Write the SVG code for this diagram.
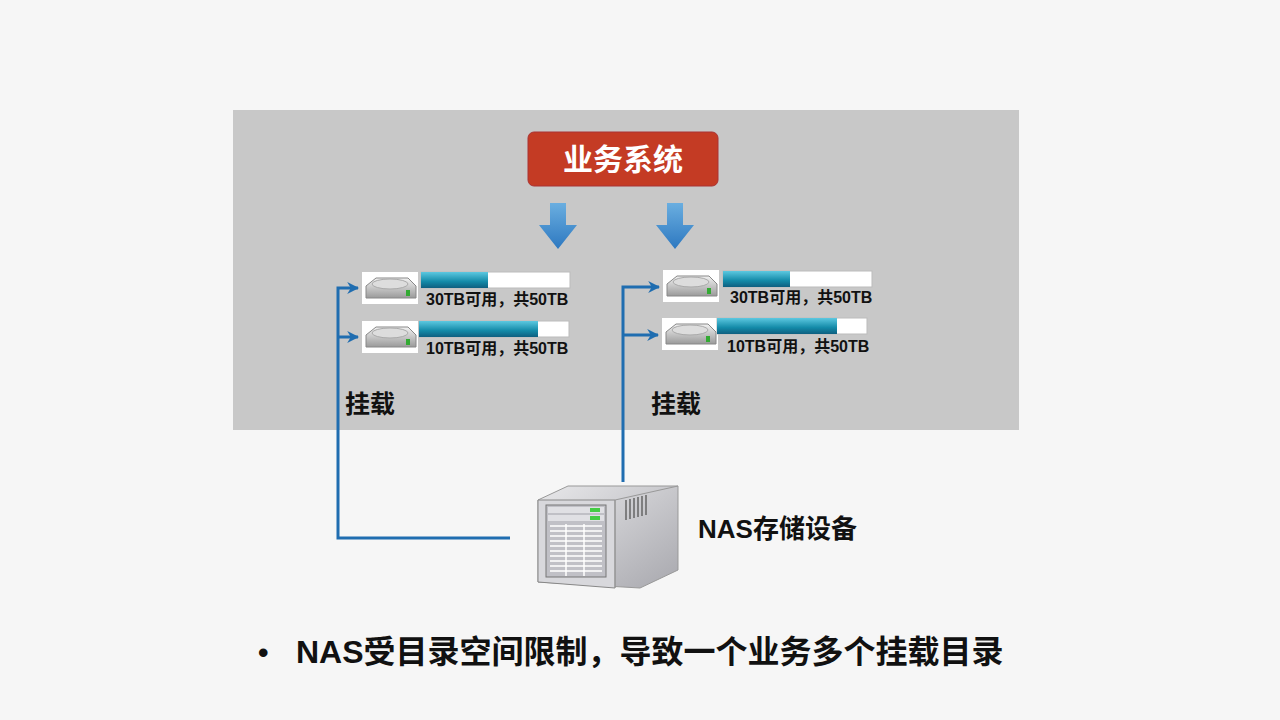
<svg xmlns="http://www.w3.org/2000/svg" width="1280" height="720" viewBox="0 0 1280 720">
<defs>
<style>
.t{font-family:"Liberation Sans","Noto Sans CJK SC",sans-serif;font-weight:bold;fill:#111}
.c{fill:none;stroke:#1f6db0;stroke-width:3}
.bar{fill:#fff;stroke:#bbb;stroke-width:1}
</style>
<linearGradient id="bl" x1="0" y1="0" x2="0" y2="1"><stop offset="0" stop-color="#5cc8e0"/><stop offset="0.6" stop-color="#138aa8"/><stop offset="1" stop-color="#0e5f80"/></linearGradient>
<linearGradient id="dk" x1="0" y1="0" x2="0" y2="1"><stop offset="0" stop-color="#f2f2f2"/><stop offset="1" stop-color="#9a9a9a"/></linearGradient>
<linearGradient id="sv" x1="0" y1="0" x2="1" y2="1"><stop offset="0" stop-color="#e8e8ea"/><stop offset="1" stop-color="#a8a8ae"/></linearGradient>
<linearGradient id="ba" x1="0" y1="0" x2="0" y2="1"><stop offset="0" stop-color="#6aaee0"/><stop offset="1" stop-color="#2d78c0"/></linearGradient>
<marker id="ah" viewBox="0 0 10 10" refX="9" refY="5" markerWidth="4" markerHeight="4" orient="auto"><path d="M0,0 L10,5 L0,10 L3,5 Z" fill="#1f6db0"/></marker>
<g id="disk"><rect width="56" height="32" fill="#fff"/><path d="M4,14 L14,6 L46,6 L54,14 L54,26 L4,26 Z" fill="url(#dk)" stroke="#888"/><ellipse cx="28" cy="12" rx="18" ry="5" fill="#ddd" stroke="#aaa"/><rect x="44" y="18" width="4" height="6" fill="#3a3"/></g>
</defs>
<rect width="1280" height="720" fill="#f6f6f6"/>
<rect x="233" y="110" width="786" height="320" fill="#c8c8c8"/>
<g id="biz"><rect x="528" y="132" width="190" height="54" rx="6" fill="#c43b24" stroke="#a33" /><text x="623" y="170" text-anchor="middle" class="t" style="fill:#fff;font-size:30px">业务系统</text></g>
<g id="arrows"><path d="M550,203 h16 v22 h11 l-19,24 l-19,-24 h11 Z" fill="url(#ba)"/><path d="M667,203 h16 v22 h11 l-19,24 l-19,-24 h11 Z" fill="url(#ba)"/></g>
<g id="d1"><use href="#disk" x="362" y="272"/><rect class="bar" x="421" y="272" width="149" height="16"/><rect x="421" y="272" width="67" height="16" fill="url(#bl)"/><text x="426" y="305" class="t" font-size="16">30TB可用，共50TB</text></g>
<g id="d2"><use href="#disk" x="362" y="321"/><rect class="bar" x="419" y="321" width="150" height="16"/><rect x="419" y="321" width="119" height="16" fill="url(#bl)"/><text x="426" y="354" class="t" font-size="16">10TB可用，共50TB</text></g>
<g id="d3"><use href="#disk" x="663" y="270"/><rect class="bar" x="723" y="271" width="149" height="16"/><rect x="723" y="271" width="67" height="16" fill="url(#bl)"/><text x="730" y="303" class="t" font-size="16">30TB可用，共50TB</text></g>
<g id="d4"><use href="#disk" x="662" y="318"/><rect class="bar" x="717" y="318" width="150" height="16"/><rect x="717" y="318" width="120" height="16" fill="url(#bl)"/><text x="727" y="352" class="t" font-size="16">10TB可用，共50TB</text></g>
<g id="connectors">
<path class="c" d="M510,538 H338 V288 H358" marker-end="url(#ah)"/>
<path class="c" d="M338,337 H358" marker-end="url(#ah)"/>
<path class="c" d="M623,482 V287 H659" marker-end="url(#ah)"/>
<path class="c" d="M623,335 H658" marker-end="url(#ah)"/>
</g>
<text x="345" y="413" class="t" font-size="25">挂载</text>
<text x="651" y="413" class="t" font-size="25">挂载</text>
<g id="nas">
<path d="M538,500 L568,486 L678,486 L678,570 L640,588 L538,582 Z" fill="url(#sv)" stroke="#999"/>
<path d="M538,500 L615,500 L615,588 L538,582 Z" fill="#d8d8dc" stroke="#888"/>
<path d="M615,500 L678,486 M615,500 L615,588" stroke="#999"/>
<rect x="546" y="505" width="60" height="72" fill="#c0c0c6" stroke="#777"/>
<rect x="548" y="507" width="56" height="6" fill="#e0e0e4"/><rect x="590" y="508" width="10" height="4" fill="#4c4"/>
<rect x="548" y="515" width="56" height="6" fill="#e0e0e4"/><rect x="590" y="516" width="10" height="4" fill="#4c4"/>
<path d="M550,526 H602 M550,531 H602 M550,536 H602 M550,541 H602 M550,546 H602 M550,551 H602 M550,556 H602 M550,561 H602 M550,566 H602 M550,571 H602 M566,524 V576 M584,524 V576" stroke="#fff" stroke-width="1.5"/>
<path d="M626,500 V520 M630,499 V519 M634,498 V518 M638,497 V517 M642,496 V516 M646,495 V515" stroke="#666" stroke-width="1.5"/>
<text x="698" y="538" class="t" font-size="26">NAS存储设备</text>
</g>
<text x="258" y="663" class="t" font-size="30">•</text>
<text x="296" y="663" class="t" font-size="32">NAS受目录空间限制，导致一个业务多个挂载目录</text>
</svg>
